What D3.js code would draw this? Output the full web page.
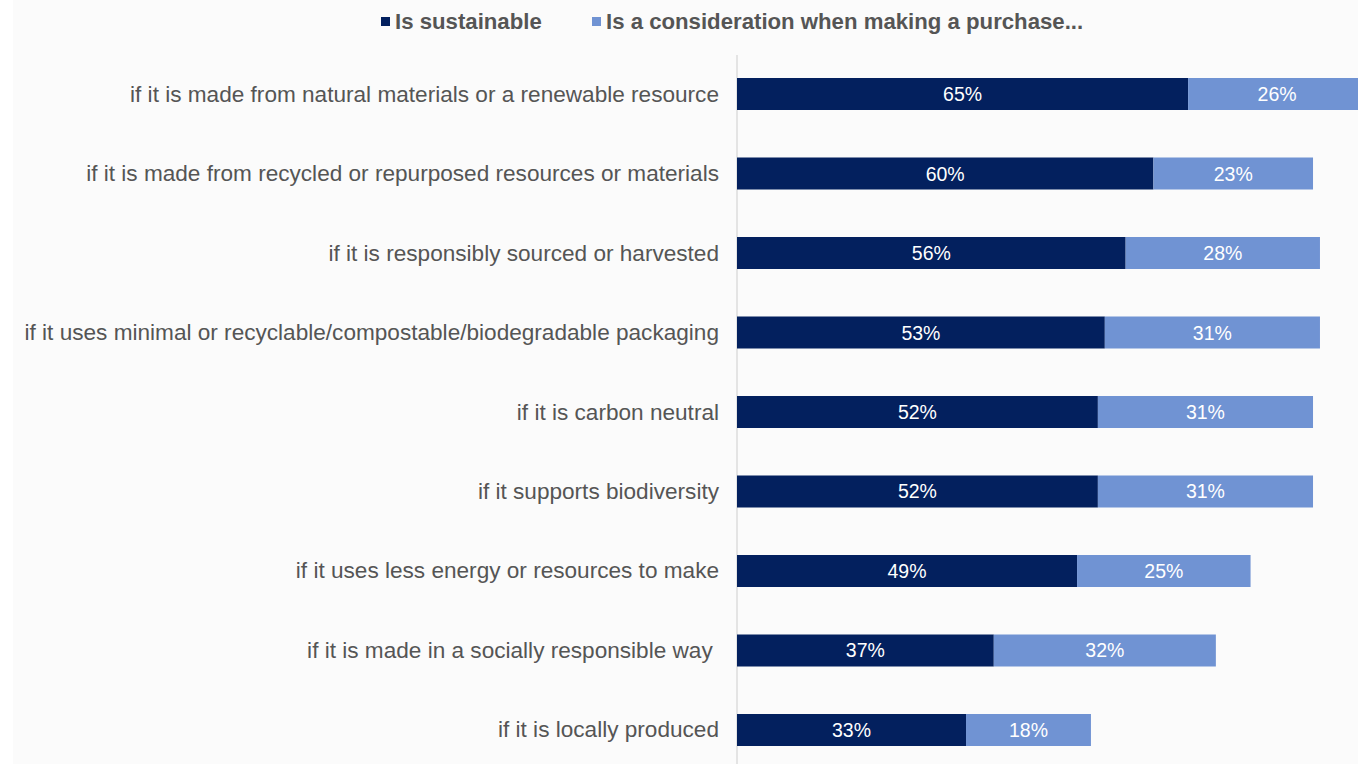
<!DOCTYPE html>
<html>
<head>
<meta charset="utf-8">
<script src="https://cdn.jsdelivr.net/npm/d3@7"></script>
<style>
  body { margin: 0; background: #fff; }
  svg { display: block; font-family: "Liberation Sans", Arial, sans-serif; }
</style>
</head>
<body>
<svg id="chart" width="1358" height="764"></svg>
<script>
let categories = [
    "if it is made from natural materials or a renewable resource",
    "if it is made from recycled or repurposed resources or materials",
    "if it is responsibly sourced or harvested",
    "if it uses minimal or recyclable/compostable/biodegradable packaging",
    "if it is carbon neutral",
    "if it supports biodiversity",
    "if it uses less energy or resources to make",
    "if it is made in a socially responsible way ",
    "if it is locally produced"
];
let sustainable = [65, 60, 56, 53, 52, 52, 49, 37, 33];
let consideration = [26, 23, 28, 31, 31, 31, 25, 32, 18];
let seriesNames = ["Is sustainable", "Is a consideration when making a purchase..."];
let colors = ["#03205e", "#7093d3"];

let svg = d3.select("#chart");

// light panel behind the chart
svg.append("rect")
    .attr("x", 13).attr("y", 0)
    .attr("width", 1345).attr("height", 764)
    .attr("fill", "#fbfbfb");

let x = d3.scaleLinear().domain([0, 100]).range([737, 1431]);
let y = d3.scaleBand().domain(categories).range([30.5, 793.5]).padding(0.5975);

let rows = categories.map((c, i) => ({ cat: c, a: sustainable[i], b: consideration[i] }));

// axis line
svg.append("line")
    .attr("x1", x(0)).attr("x2", x(0))
    .attr("y1", 55).attr("y2", 764)
    .attr("stroke", "#dcdcdc")
    .attr("stroke-width", 1.5);

let g = svg.selectAll(".row")
    .data(rows)
    .enter().append("g")
    .attr("class", "row");

g.append("rect")
    .attr("x", x(0))
    .attr("y", d => y(d.cat))
    .attr("width", d => x(d.a) - x(0))
    .attr("height", y.bandwidth())
    .attr("fill", colors[0]);

g.append("rect")
    .attr("x", d => x(d.a))
    .attr("y", d => y(d.cat))
    .attr("width", d => x(d.a + d.b) - x(d.a))
    .attr("height", y.bandwidth())
    .attr("fill", colors[1]);

g.append("text")
    .attr("x", d => (x(0) + x(d.a)) / 2)
    .attr("y", d => y(d.cat) + y.bandwidth() / 2 + 7)
    .attr("text-anchor", "middle")
    .attr("fill", "#fff")
    .attr("font-size", 19.5)
    .text(d => d.a + "%");

g.append("text")
    .attr("x", d => Math.min((x(d.a) + x(d.a + d.b)) / 2, (x(d.a) + 1358) / 2 + 4))
    .attr("y", d => y(d.cat) + y.bandwidth() / 2 + 7)
    .attr("text-anchor", "middle")
    .attr("fill", "#fff")
    .attr("font-size", 19.5)
    .text(d => d.b + "%");

// category labels
g.append("text")
    .attr("x", 719)
    .attr("y", d => y(d.cat) + y.bandwidth() / 2 + 7.5)
    .attr("text-anchor", "end")
    .attr("fill", "#555")
    .attr("font-size", 22.6)
    .style("white-space", "pre")
    .text(d => d.cat);

// legend
let legendX = [381, 592];
let legend = svg.selectAll(".legend")
    .data(seriesNames)
    .enter().append("g")
    .attr("class", "legend")
    .attr("transform", (d, i) => "translate(" + legendX[i] + ",0)");

legend.append("rect")
    .attr("x", 0).attr("y", 17)
    .attr("width", 9).attr("height", 9)
    .attr("fill", (d, i) => colors[i]);

legend.append("text")
    .attr("x", 14)
    .attr("y", 29)
    .attr("fill", "#555")
    .attr("font-size", 22.2)
    .attr("font-weight", "bold")
    .text(d => d);
</script>
</body>
</html>
